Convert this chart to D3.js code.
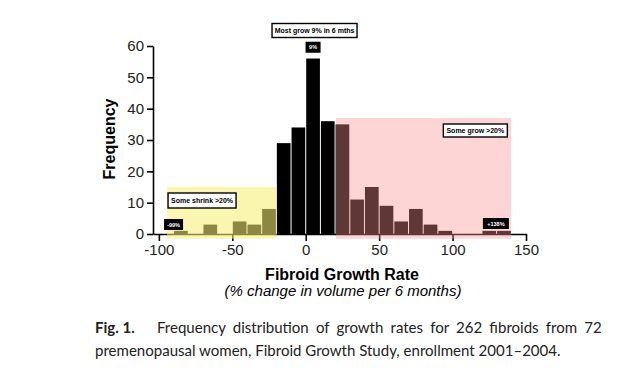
<!DOCTYPE html>
<html>
<head>
<meta charset="utf-8">
<script src="https://cdn.jsdelivr.net/npm/d3@7"></script>
<style>
  body { margin: 0; background: #fff; }
  svg { display: block; }
</style>
</head>
<body>
<div id="chart"></div>
<script>
var W = 636, H = 378;

// histogram: lower edge of each 10% bin and count of fibroids in it
var binStarts = [-100, -90, -80, -70, -60, -50, -40, -30, -20, -10, 0, 10, 20, 30, 40, 50, 60, 70, 80, 90, 100, 110, 120, 130];
var counts    = [0, 1, 0, 3, 0, 4, 3, 8, 29, 34, 56, 36, 35, 11, 15, 9, 4, 8, 3, 1, 0, 0, 1, 1];
var BIN_WIDTH = 10;

var xTicks = [-100, -50, 0, 50, 100, 150];
var yTicks = [0, 10, 20, 30, 40, 50, 60];

// shaded regions [x0, x1, yTop]
var shrinkRegion = [-94.5, -19.7, 15];
var growRegion = [20.6, 139.8, 37];

var x = d3.scaleLinear().domain([-104, 150]).range([153, 526]);
var y = d3.scaleLinear().domain([0, 60]).range([234, 46]);

var svg = d3.select('#chart').append('svg')
    .attr('width', W)
    .attr('height', H)
    .style('font-family', '"Liberation Sans", Arial, sans-serif');

var bins = binStarts.map((b, i) => ({x0: b, x1: b + BIN_WIDTH, n: counts[i]}));

svg.append('g').selectAll('rect')
    .data(bins.filter(d => d.n > 0))
    .enter().append('rect')
    .attr('x', d => x(d.x0) + 0.5)
    .attr('width', d => x(d.x1) - x(d.x0) - 1)
    .attr('y', d => y(d.n))
    .attr('height', d => y(0) - y(d.n))
    .style('fill', '#000');

// axes
var xAxis = svg.append('g')
    .attr('transform', 'translate(0,' + y(0) + ')')
    .call(d3.axisBottom(x).tickValues(xTicks).tickFormat(d => String(d)).tickSize(7).tickSizeOuter(0).tickPadding(3));
var yAxis = svg.append('g')
    .attr('transform', 'translate(' + x.range()[0] + ',0)')
    .call(d3.axisLeft(y).tickValues(yTicks).tickFormat(d => String(d)).tickSize(6).tickSizeOuter(0).tickPadding(3));
[xAxis, yAxis].forEach(function(a) {
    a.select('.domain').attr('stroke-width', 1.6);
    a.selectAll('.tick line').attr('stroke-width', 1.6);
    a.selectAll('.tick text').style('font-size', '15px').style('font-family', '"Liberation Sans", Arial, sans-serif').attr('fill', '#222');
});

// translucent overlays
function region(r, colour, op) {
    svg.append('rect')
        .attr('x', x(r[0]))
        .attr('width', x(r[1]) - x(r[0]))
        .attr('y', y(r[2]))
        .attr('height', y(-1.5) - y(r[2]))
        .style('fill', colour)
        .style('opacity', op);
}
region(shrinkRegion, '#f6ed72', 0.57);
region(growRegion, '#fa9191', 0.38);

// annotation boxes
function whiteBox(cx, cy, w, h, label) {
    svg.append('rect')
        .attr('x', cx - w / 2).attr('y', cy - h / 2)
        .attr('width', w).attr('height', h)
        .style('fill', '#fff').style('stroke', '#000').style('stroke-width', 1.4);
    svg.append('text')
        .attr('x', cx).attr('y', cy + 2.5)
        .attr('text-anchor', 'middle')
        .style('font-size', '7px').style('font-weight', 'bold')
        .text(label);
}
function blackBox(cx, cy, w, h, label) {
    svg.append('rect')
        .attr('x', cx - w / 2).attr('y', cy - h / 2)
        .attr('width', w).attr('height', h)
        .style('fill', '#000');
    svg.append('text')
        .attr('x', cx).attr('y', cy + 2)
        .attr('text-anchor', 'middle')
        .style('font-size', '5.5px').style('font-weight', 'bold').style('fill', '#fff')
        .text(label);
}
whiteBox(x(6), 30.5, 85, 14, 'Most grow 9% in 6 mths');
blackBox(x(5), y(59.6), 15, 11, '9%');
whiteBox(x(115.5), 130.5, 64, 13, 'Some grow >20%');
whiteBox(x(-70.6), 200.5, 68, 15, 'Some shrink >20%');
blackBox(x(-90), 224.5, 19, 11, '-99%');
blackBox(x(129.5), 223.5, 26, 11, '+138%');

// axis titles
svg.append('text')
    .attr('transform', 'translate(115,139) rotate(-90)')
    .attr('text-anchor', 'middle')
    .style('font-size', '16px').style('font-weight', 'bold')
    .text('Frequency');
svg.append('text')
    .attr('x', 342).attr('y', 280)
    .attr('text-anchor', 'middle')
    .style('font-size', '16px').style('font-weight', 'bold')
    .text('Fibroid Growth Rate');
svg.append('text')
    .attr('x', 343).attr('y', 296)
    .attr('text-anchor', 'middle')
    .style('font-size', '15px').style('font-style', 'italic')
    .text('(% change in volume per 6 months)');

// caption, sized so the second line spans like the original
var cap = svg.append('g').style('font-family', 'Lato, "Open Sans", sans-serif').style('font-size', '15px').attr('fill', '#222');
var line2 = cap.append('text').attr('x', 95).attr('y', 356)
    .text('premenopausal women, Fibroid Growth Study, enrollment 2001\u20132004.');
var fs = 15 * 466 / line2.node().getComputedTextLength();
cap.style('font-size', fs + 'px');
cap.append('text').attr('x', 95).attr('y', 333).style('font-weight', 'bold').text('Fig. 1.');
var line1 = cap.append('text').attr('x', 157).attr('y', 333)
    .text('Frequency distribution of growth rates for 262 fibroids from 72');
var extra = (605 - 157 - line1.node().getComputedTextLength()) / 10;
line1.style('word-spacing', extra + 'px');
</script>
</body>
</html>
